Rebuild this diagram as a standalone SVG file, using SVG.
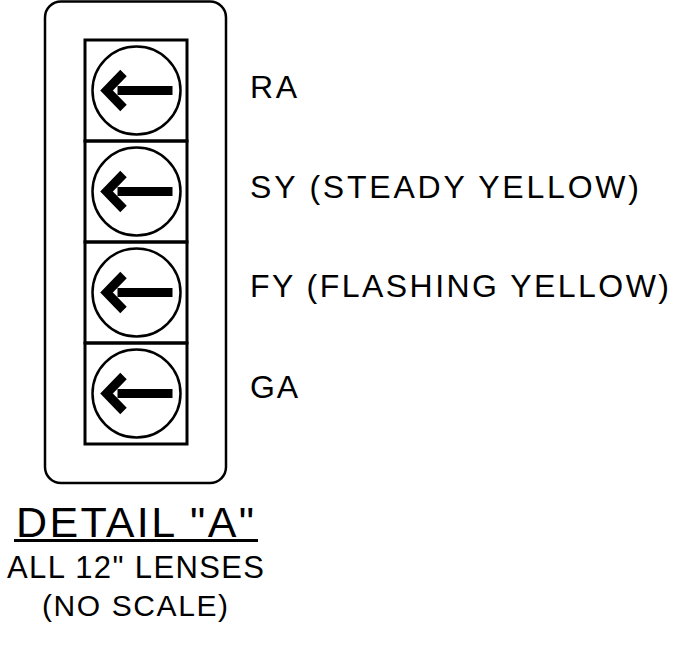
<svg xmlns="http://www.w3.org/2000/svg" width="694" height="646" viewBox="0 0 694 646">
<defs>
<style>
.ln{fill:none;stroke:#000;stroke-width:2.5}
.box{fill:none;stroke:#000;stroke-width:3}
.chev{fill:none;stroke:#000;stroke-width:9;stroke-linejoin:miter;stroke-linecap:butt}
.t{font-family:"Liberation Sans",Arial,sans-serif;fill:#000}
</style>
<g id="lens-sym">
<circle cx="0" cy="0" r="44" class="ln"/>
<rect x="-19" y="-4.5" width="55" height="9" fill="#000"/>
<polyline points="-13,-17.5 -30,0 -13,17.5" class="chev"/>
</g>
</defs>
<rect width="694" height="646" fill="#fff"/>
<g id="housing">
<rect x="45" y="1.5" width="181" height="481.5" rx="16" class="ln"/>
</g>
<g id="lens-RA">
<rect x="85" y="40" width="102" height="101" class="box"/>
<use href="#lens-sym" x="136.5" y="90.5"/>
</g>
<g id="lens-SY">
<rect x="85" y="141" width="102" height="101" class="box"/>
<use href="#lens-sym" x="136.5" y="191.5"/>
</g>
<g id="lens-FY">
<rect x="85" y="242" width="102" height="101" class="box"/>
<use href="#lens-sym" x="136.5" y="292.5"/>
</g>
<g id="lens-GA">
<rect x="85" y="343" width="102" height="101" class="box"/>
<use href="#lens-sym" x="136.5" y="393.5"/>
</g>
<g id="labels">
<text class="t" x="250" y="98" font-size="32" textLength="47" lengthAdjust="spacing">RA</text>
<text class="t" x="250" y="198" font-size="32" textLength="389" lengthAdjust="spacing">SY (STEADY YELLOW)</text>
<text class="t" x="250" y="297" font-size="32" textLength="419" lengthAdjust="spacing">FY (FLASHING YELLOW)</text>
<text class="t" x="250" y="398" font-size="32" textLength="48" lengthAdjust="spacing">GA</text>
</g>
<g id="title">
<text class="t" x="16" y="536.5" font-size="43" textLength="238" lengthAdjust="spacing">DETAIL "A"</text>
<line x1="14" y1="540.5" x2="258" y2="540.5" stroke="#000" stroke-width="3"/>
<text class="t" x="7" y="577.5" font-size="31" textLength="257" lengthAdjust="spacing">ALL 12" LENSES</text>
<text class="t" x="42" y="616" font-size="30" textLength="186" lengthAdjust="spacing">(NO SCALE)</text>
</g>
</svg>
